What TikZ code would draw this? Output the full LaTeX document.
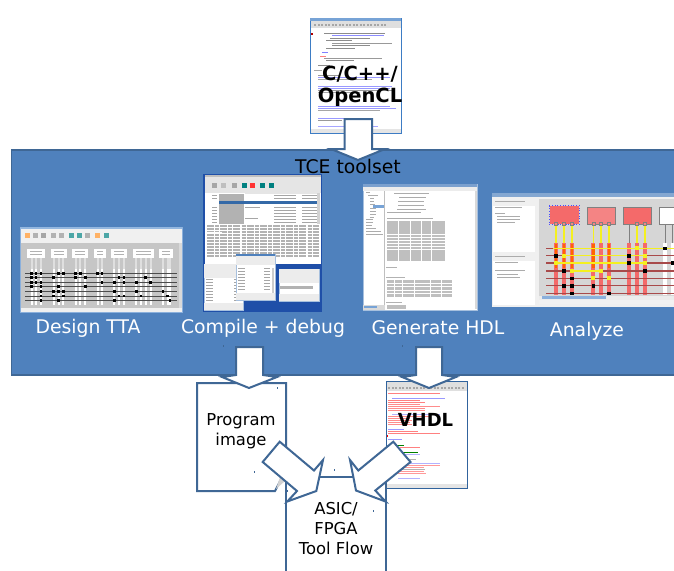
\documentclass[tikz,border=0pt]{standalone}
\usepackage{fontspec}
\setmainfont{DejaVu Sans}
\definecolor{panelblue}{HTML}{4F81BD}
\definecolor{edgeblue}{HTML}{3F6795}
\definecolor{winblue}{HTML}{3D7CC4}
\definecolor{codegray}{HTML}{8A8A8A}
\definecolor{redbox}{HTML}{F46A6A}
\definecolor{redlite}{HTML}{F48484}
\definecolor{busred}{HTML}{A84A4A}
\definecolor{ylw}{HTML}{F4F020}
\definecolor{deskblue}{HTML}{1F4FA8}
\tikzset{
  shot/.style={draw=none,inner sep=0pt,outer sep=0pt,anchor=north west},
  whitebox/.style={draw=edgeblue,line width=2pt,fill=white},
  blockarrow/.style={draw=edgeblue,line width=2pt,fill=white,line join=miter},
  lab/.style={inner sep=0pt,font=\fontsize{18.8}{22}\selectfont,text=white,anchor=center},
  blk/.style={inner sep=0pt,font=\fontsize{16.4}{20}\selectfont,text=black,align=center,anchor=center},
  bigb/.style={inner sep=0pt,font=\fontsize{19.5}{23}\selectfont\bfseries,text=black,anchor=center},
}
\begin{document}
\begin{tikzpicture}[x=1pt,y=-1pt]
\clip (0,0) rectangle (674,570);
\fill[white] (0,0) rectangle (674,570);

% ---------- C source window
\node[shot,fill=white,draw=winblue,line width=1pt,minimum width=91pt,minimum height=115pt] (cfile) at (310,18) {};
\fill[winblue!70!white] (310,18) rectangle (401,20.5);
\fill[gray!25] (310.5,20.5) rectangle (400.5,28);
\foreach \x in {314,317.5,...,384}{\fill[gray!70] (\x,24) rectangle ++(2,2.4);}
\fill[gray!20] (310.5,128.5) rectangle (400.5,132.5);
\fill[red!70!black] (311,33) rectangle (312.5,35);
\foreach \y/\a/\b/\c in {33/324/385/black!45,35.5/332/384/blue!45,38/330/370/black!45,40.5/326/352/black!45,43/332/392/black!40,45.5/332/370/black!45,48/326/355/black!45,52/322/328/blue!50,56/320/326/red!50,58/324/382/black!40,60.5/326/354/black!45,65/318/330/black!45,70/314/322/black!35,75/318/340/black!40,77/318/390/blue!40,79/318/372/black!35,86/318/392/blue!40,88/318/390/blue!40,90/318/395/black!40,92/318/360/black!35,106/318/390/blue!40,108/318/396/blue!40,110/318/380/black!35,118/318/360/blue!40,120/318/342/black!40,126/318/378/blue!35}
  {\draw[line width=.9pt,\c] (\a,\y) -- (\b,\y);}
\node[bigb] (ctext1) at (360,74) {C/C++/};
\node[bigb] (ctext2) at (360,97) {OpenCL};

% ---------- Panel
\node[shot,fill=panelblue,draw=edgeblue,line width=1.8pt,minimum width=680pt,minimum height=225pt] (panel) at (11.5,150) {};

% ---------- Arrow C -> panel
\draw[blockarrow] (344.5,119) -- (372,119) -- (372,149) -- (385,149) -- (358,160) -- (331,149) -- (344.5,149) -- cycle;
\node[lab,text=black] (tcelabel) at (348,166) {TCE toolset};

% ---------- Design TTA window
\node[shot,fill=gray!12,draw=winblue!60!white,line width=.6pt,minimum width=162pt,minimum height=85pt] (tta) at (20,227) {};
\fill[winblue!55!white] (20,227) rectangle (182,229);
\foreach \x/\c in {25/orange!60,33/gray!60,41/gray!70,51/gray!60,59/gray!60,69/teal!70,77/teal!70,85/gray!60,95/orange!60,104/teal!70}{\fill[\c] (\x,233) rectangle ++(5,5);}
\fill[gray!45] (21,243) rectangle (179,308);
\fill[gray!30] (179,243) rectangle (181.5,308);
\foreach \a/\b in {27/45,51/67,72/88,94/106,111/127,133/154,159/173}{
  \fill[white] (\a,248.5) rectangle (\b,258);
  \draw[line width=.5pt,gray!60] (\a+3,251) -- (\b-3,251) (\a+3,254) -- (\b-3,254);
}
\foreach \x in {31.7,36,41,53.7,58.7,63.3,75.7,80.3,85.3,97.7,102,114.3,119,124,136.3,141,145.7,150.7,163,167.7,170}{
  \draw[line width=2pt,gray!25] (\x,258) -- (\x,269);
  \draw[line width=2pt,white] (\x,269) -- (\x,305);
}
\foreach \y in {273.3,277.7,282.3,286.7,291.3,296,300.7}{\draw[line width=1pt,black!70] (25,\y) -- (177,\y);}
\foreach \x/\y in {31.7/273.3,36/273.3,41/273.3,58.7/273.3,63.3/273.3,75.7/273.3,80.3/273.3,97.7/273.3,102/273.3,31.7/277.7,36/277.7,53.7/277.7,41/282.3,31.7/282.3,36/282.3,75.7/277.7,85.3/277.7,119/277.7,145.7/277.7,102/282.3,124/277.7,31.7/286.7,41/286.7,58.7/286.7,85.3/286.7,114.3/282.3,124/282.3,136.3/282.3,150.7/282.3,41/291.3,53.7/291.3,58.7/291.3,63.3/291.3,114.3/291.3,124/296,136.3/291.3,53.7/296,63.3/296,41/296,119/296,141/296,163/291.3,167.7/296,41/300.7,58.7/300.7,114.3/300.7,170/300.7}{\fill[black] (\x-1.3,\y-1.3) rectangle (\x+1.3,\y+1.3);}

% ---------- Compile + debug windows
\node[shot,fill=deskblue,minimum width=119pt,minimum height=138pt] (comp) at (203,174) {};
\fill[white] (205,175) rectangle (321,264);
\fill[gray!20] (205,175) rectangle (321,193);
\fill[gray!50] (205,175) rectangle (321,177);
\foreach \x/\c in {212/gray!70,221/gray!50,232/gray!70,242/teal,250/red!80,260/teal,269/teal}{\fill[\c] (\x,183) rectangle ++(5,5);}
\fill[gray!60] (219,193.5) rectangle (244,224);
\fill[white] (205,193) rectangle (219,224);
\fill[winblue!85!black] (219,201) rectangle (319,204);
\fill[gray!20] (245,191) rectangle (319,193.5);
\foreach \y in {195,198,207,210,213,216,219,222}{
  \draw[line width=.8pt,gray!70] (212,\y) -- (217,\y);
  \draw[line width=.8pt,gray!70] (274,\y) -- (296,\y) (302,\y) -- (319,\y);
}
\draw[line width=.8pt,gray!70] (245,207) -- (260,207) (245,218) -- (258,218);
\fill[gray!35] (317,193) rectangle (320,224);
\foreach \y in {226,229,232,235,238,241,244,247,250,253,256}{
  \draw[line width=1.1pt,gray!60,dash pattern=on 7pt off 1.2pt on 4pt off 1pt] (207,\y) -- (319,\y);
}
\fill[white] (205,232) rectangle (222,234);
% sub windows
\node[shot,fill=white,draw=panelblue!50!white,line width=.6pt,minimum width=39pt,minimum height=46pt] (dbg1) at (204,264) {};
\fill[gray!15] (204.3,264.3) rectangle (243,278);
\fill[gray!15] (204.3,303) rectangle (243,310);
\foreach \y in {279,282,...,300}{\draw[line width=.8pt,gray!70] (206,\y) -- (213,\y) (234,\y) -- (240,\y);}
\node[shot,fill=white,draw=panelblue!50!white,line width=.6pt,minimum width=39pt,minimum height=46pt] (dbg2) at (236,254) {};
\fill[panelblue] (236.3,254.3) rectangle (275,256);
\fill[gray!15] (236.3,256) rectangle (275,265);
\fill[gray!15] (236.3,293) rectangle (275,300);
\fill[gray!40] (272,268) rectangle (274,293);
\foreach \y in {268,271,...,290}{\draw[line width=.8pt,gray!70] (238,\y) -- (245,\y) (264,\y) -- (270,\y);}
\node[shot,fill=white,draw=panelblue!50!white,line width=.6pt,minimum width=40pt,minimum height=32pt] (dbg3) at (279,269) {};
\fill[gray!15] (279.3,269.3) rectangle (319,283);
\fill[gray!60] (280,286) rectangle (313,288.5);
\fill[gray!15] (279.3,294) rectangle (319,301);

% ---------- Generate HDL window
\node[shot,fill=white,draw=panelblue!50!white,line width=.6pt,minimum width=114pt,minimum height=126pt] (hdlw) at (363,184) {};
\fill[panelblue!75!white] (363,184) rectangle (477,187);
\fill[gray!15] (363.3,187) rectangle (476.7,191);
\draw[gray!50,line width=.5pt] (384.5,191) -- (384.5,309);
\fill[gray!30] (363.3,305) rectangle (384.5,309.5);
\fill[winblue!70!white] (364,305.5) rectangle (377,308);
\fill[gray!30] (475,191) rectangle (476.7,309);
\foreach \a/\b/\y in {366/370/192,368/378/195,370/374/198,370/374/201,370/375/204,370/376/208,370/376/211,370/376/214,370/374/217,366/373/219,366/373/222,366/372/225,366/376/228,366/381/231,366/383/234}{\draw[line width=.8pt,gray!65] (\a,\y) -- (\b,\y);}
\fill[winblue!70!white] (373,204.5) rectangle (384,207.5);
\foreach \a/\b/\y in {394/429/193,399/426/197,398/424/201,398/424/205,397/426/209,387/421/212,387/433/218}{\draw[line width=.9pt,gray!65] (\a,\y) -- (\b,\y);}
\foreach \y in {220.5,223.4,...,260}{\fill[gray!50] (386.5,\y) rectangle (444.5,\y+2.3);}
\foreach \x in {398,410,421,431}{\draw[white,line width=.5pt] (\x,220) -- (\x,263);}
\draw[line width=.8pt,gray!60] (386,267.5) -- (397,267.5) (386,277) -- (405,277) (386,302) -- (402,302);
\foreach \y in {280,283.5,...,297}{\fill[gray!50] (386.5,\y) rectangle (451.5,\y+2.8);}
\foreach \x in {394,402,414,430,441}{\draw[white,line width=.5pt] (\x,280) -- (\x,298);}
\fill[gray!50] (386.5,304.5) rectangle (406,309);

% ---------- Analyze window
\node[shot,fill=gray!12,minimum width=190pt,minimum height=114pt] (ana) at (492,193) {};
\fill[panelblue!70!white] (492,193) rectangle (674,197);
\fill[white] (493,205.5) rectangle (535,252);
\fill[white] (493,260.5) rectangle (535,304.5);
\draw[line width=.8pt,gray!65] (495,201) -- (525,201) (495,207) -- (522,207) (495,213) -- (505,213) (497,216) -- (520,216) (497,219) -- (520,219) (497,222) -- (515,222) (495,256.5) -- (525,256.5) (495,262) -- (518,262) (495,270) -- (525,270) (497,274) -- (518,274) (497,277.5) -- (520,277.5);
\fill[gray!32] (539,199) rectangle (674,296);
\fill[gray!15] (539,296) rectangle (674,300);
\fill[winblue!60!white] (542,295.5) rectangle (606,299);
\fill[gray!10] (539,300) rectangle (674,304);
% function units
\fill[redbox] (550,206) rectangle (579,224);
\draw[blue!70,dotted,line width=.7pt] (549,205.5) rectangle (579.5,224);
\fill[redlite] (587.5,207) rectangle (615,224.5);
\draw[gray,line width=.5pt] (587.5,207) rectangle (615,224.5);
\fill[redbox] (623.5,207) rectangle (651,224.5);
\draw[gray,line width=.5pt] (623.5,207) rectangle (651,224.5);
\fill[white] (659,207) rectangle (674,224.5);
\draw[gray,line width=.5pt] (659,207) rectangle (676,224.5);
% columns
\foreach \x in {556,564,572,593.3,601,609,629,637,645}{
  \fill[redbox] (\x-2,243) rectangle (\x+2,295);
}
\foreach \x in {665,672.7}{\fill[white] (\x-1.7,243) rectangle (\x+1.7,295);}
% sockets and moves
\foreach \x in {556,564,572,593.3,601,609,637,645}{
  \draw[ylw,line width=1.2pt] (\x,224.5) -- (\x,243);
  \fill[redlite] (\x-1.6,222) rectangle (\x+1.6,225);
  \draw[gray,line width=.4pt] (\x-1.6,222) rectangle (\x+1.6,225);
}
\foreach \x in {629,665,672.7}{\draw[gray,line width=.9pt] (\x,224.5) -- (\x,243);}
\foreach \y in {248.3,255.7,263,271,278.3,285.7,293.3}{\draw[busred,line width=1.2pt] (546,\y) -- (674,\y);}
\foreach \x in {556,564,572,593.3,609}{\fill[orange!80!red] (\x-1.2,244) rectangle (\x+1.2,268);}
\draw[ylw,line width=1.3pt] (553,248.3) -- (674,248.3);
\draw[ylw,line width=1.3pt] (564,255.7) -- (645,255.7);
\draw[ylw,line width=1.3pt] (556,263) -- (645,263);
\draw[ylw,line width=1.3pt] (572,271) -- (601,271);
\foreach \x/\y in {564/255.7,556/263,601/271,637/248.3,645/255.7,645/263,572/271,593.3/278.3,609/278.3}{\fill[ylw] (\x-1.9,\y-1.9) rectangle (\x+1.9,\y+1.9);}
\foreach \x/\y in {556/255.7,564/271,593.3/285.7,572/285.7,572/293.3,564/285.7,609/293.3,629/255.7,629/263,645/271,665/248.3,672.7/263,572/278.3}{\fill[black] (\x-1.8,\y-1.8) rectangle (\x+1.8,\y+1.8);}

% ---------- Panel labels
\node[lab] (l1) at (88,328) {Design TTA};
\node[lab] (l2) at (263,328) {Compile + debug};
\node[lab] (l3) at (438,328) {Generate HDL};
\node[lab] (l4) at (587,331) {Analyze};

% ---------- VHDL window
\node[shot,fill=white,draw=winblue!80!black,line width=.8pt,minimum width=81pt,minimum height=107pt] (vhdl) at (386,381) {};
\fill[gray!25] (386.5,382) rectangle (466.5,391);
\foreach \x in {388,391.5,...,464}{\fill[gray!70] (\x,387) rectangle ++(2,2.4);}
\fill[gray!20] (386.5,484) rectangle (466.5,487.5);
\foreach \y/\a/\b/\c in {393/388/440/red!50,398/392/445/blue!40,400/388/420/red!50,402/388/425/red!50,404/388/420/red!45,406/388/440/red!45,408/388/425/red!45,410/388/425/red!45,414/392/440/blue!30,416/388/430/red!45,418/388/410/red!45,420/388/412/red!45,422/388/410/red!45,424/388/412/red!45,429/388/404/blue!40,431/388/418/red!50,433/388/440/red!50,439/388/402/blue!40,445/396/404/green!50!black,447/400/420/red!50,452/400/418/green!50!black,454/400/420/blue!30,459/398/416/black!30,463/400/440/blue!30,465/400/440/red!40,467/398/424/red!40,469/398/425/black!30,471/398/424/red!40,473/398/426/red!40,478/398/420/blue!30}
  {\draw[line width=.8pt,\c] (\a,\y) -- (\b,\y);}
\fill[red] (386.5,435) rectangle (388,437);
\node[bigb,font=\fontsize{18}{22}\selectfont\bfseries] (vhdllabel) at (425.5,420) {VHDL};

% ---------- Program image
\draw[whitebox] (197,383) -- (286,383) -- (286,470) -- (275,491) -- (197,491) -- cycle;
\fill[gray!35] (276,489) -- (280,477) -- (285,481) -- cycle;
\node[blk] (prog) at (241,431) {Program\\image};

% ---------- ASIC box
\draw[whitebox] (286,575) -- (286,477) -- (386,477) -- (386,575);
\node[blk] (asic) at (336,528.5) {ASIC/\\FPGA\\Tool Flow};

% ---------- Down arrows
\draw[blockarrow] (236,347) -- (263,347) -- (263,375) -- (277,377) -- (249,388) -- (222,377) -- (236,375) -- cycle;
\draw[blockarrow] (416,347) -- (442,347) -- (442,375) -- (456,377) -- (429,388) -- (402,377) -- (416,375) -- cycle;

% ---------- Diagonal arrows to ASIC
\draw[blockarrow] (279.7,441.7) -- (262.7,462) -- (297,491) -- (287.3,501.5) -- (316.3,491) -- (323,460) -- (314,470.5) -- cycle;
\draw[blockarrow] (393.3,441.7) -- (410.5,462) -- (375.3,490.5) -- (385.5,501.5) -- (356,490.5) -- (350,460) -- (358.3,470.5) -- cycle;

% ---------- small specks
\foreach \x/\y in {277/388,254/472,334.5/470,373.5/511,287/491,223/346,402/346}{\fill[edgeblue] (\x-.5,\y-.9) rectangle (\x+.5,\y+.9);}
\end{tikzpicture}
\end{document}
